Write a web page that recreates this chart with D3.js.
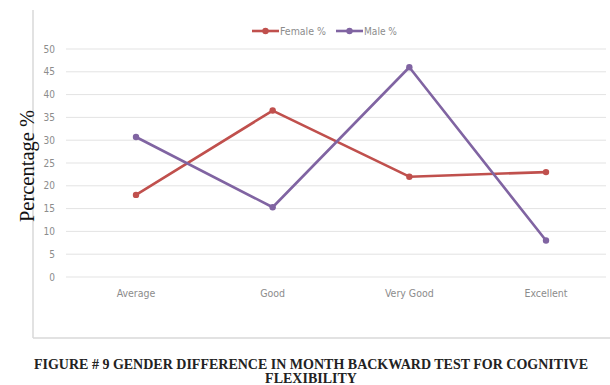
<!DOCTYPE html>
<html>
<head>
<meta charset="utf-8">
<script src="https://cdn.jsdelivr.net/npm/d3@7"></script>
<style>
  body { margin: 0; background: #fff; }
  svg { display: block; }
</style>
</head>
<body>
<div id="chart"></div>
<script>
// data
const categories = ["Average", "Good", "Very Good", "Excellent"];
const femaleVals = [18, 36.5, 22, 23];
const maleVals = [30.7, 15.3, 46, 8];
const yTicks = [0, 5, 10, 15, 20, 25, 30, 35, 40, 45, 50];
const seriesNames = ["Female %", "Male %"];

const W = 610, H = 385;
const svg = d3.select("#chart").append("svg")
    .attr("width", W)
    .attr("height", H);

const narrow = "'Liberation Sans Narrow', 'DejaVu Sans Condensed', sans-serif";
const serif = "'Liberation Serif', 'DejaVu Serif', serif";
const colors = ["#c0504d", "#8064a2"];

// chart frame (left + bottom borders visible)
svg.append("line")
    .attr("x1", 33).attr("x2", 33).attr("y1", 10).attr("y2", 338)
    .attr("stroke", "#d9d9d9").attr("stroke-width", 1.5);
svg.append("line")
    .attr("x1", 33).attr("x2", W).attr("y1", 338).attr("y2", 338)
    .attr("stroke", "#d9d9d9").attr("stroke-width", 1.5);

const x = d3.scalePoint()
    .domain(categories)
    .range([136, 546]);

const y = d3.scaleLinear()
    .domain([0, 50])
    .range([277, 49]);

// gridlines
svg.append("g")
    .selectAll("line")
    .data(yTicks)
    .enter()
    .append("line")
    .attr("x1", 66).attr("x2", 606)
    .attr("y1", d => y(d)).attr("y2", d => y(d))
    .attr("stroke", "#e3e3e3").attr("stroke-width", 1);

// y tick labels
svg.append("g")
    .selectAll("text")
    .data(yTicks)
    .enter()
    .append("text")
    .attr("x", 55)
    .attr("y", d => y(d))
    .attr("dy", "0.35em")
    .attr("text-anchor", "end")
    .attr("font-family", narrow)
    .attr("font-size", 10)
    .attr("fill", "#8c8c8c")
    .text(d => d);

// x tick labels
svg.append("g")
    .selectAll("text")
    .data(categories)
    .enter()
    .append("text")
    .attr("x", d => x(d))
    .attr("y", 297)
    .attr("text-anchor", "middle")
    .attr("font-family", narrow)
    .attr("font-size", 10.5)
    .attr("fill", "#8c8c8c")
    .text(d => d);

// lines
const series = [femaleVals, maleVals];
const line = d3.line()
    .x((d, i) => x(categories[i]))
    .y(d => y(d));

series.forEach((vals, s) => {
    svg.append("path")
        .datum(vals)
        .attr("d", line)
        .attr("fill", "none")
        .attr("stroke", colors[s])
        .attr("stroke-width", 2.6)
        .attr("stroke-linejoin", "round");
    svg.append("g")
        .selectAll("circle")
        .data(vals)
        .enter()
        .append("circle")
        .attr("cx", (d, i) => x(categories[i]))
        .attr("cy", d => y(d))
        .attr("r", 3.2)
        .attr("fill", colors[s]);
});

// legend
const legendX = [252, 336];
const legendTextW = [46, 33];
seriesNames.forEach((name, s) => {
    const g = svg.append("g").attr("transform", `translate(${legendX[s]}, 31)`);
    g.append("line")
        .attr("x1", 0).attr("x2", 27).attr("y1", 0).attr("y2", 0)
        .attr("stroke", colors[s]).attr("stroke-width", 2.6);
    g.append("circle")
        .attr("cx", 13.5).attr("cy", 0).attr("r", 3.2)
        .attr("fill", colors[s]);
    g.append("text")
        .attr("x", 28).attr("y", 0).attr("dy", "0.35em")
        .attr("font-family", narrow)
        .attr("font-size", 11)
        .attr("textLength", legendTextW[s])
        .attr("lengthAdjust", "spacingAndGlyphs")
        .attr("fill", "#8c8c8c")
        .text(name);
});

// y axis title
svg.append("text")
    .attr("transform", "translate(34, 166) rotate(-90)")
    .attr("text-anchor", "middle")
    .attr("font-family", serif)
    .attr("font-size", 20.5)
    .attr("fill", "#111")
    .text("Percentage %");

// caption
svg.append("text")
    .attr("x", 311)
    .attr("y", 369)
    .attr("text-anchor", "middle")
    .attr("font-family", serif)
    .attr("font-weight", "bold")
    .attr("font-size", 14)
    .attr("fill", "#222")
    .text("FIGURE # 9 GENDER DIFFERENCE IN MONTH BACKWARD TEST FOR COGNITIVE");
svg.append("text")
    .attr("x", 311)
    .attr("y", 383)
    .attr("text-anchor", "middle")
    .attr("font-family", serif)
    .attr("font-weight", "bold")
    .attr("font-size", 14)
    .attr("fill", "#222")
    .text("FLEXIBILITY");
</script>
</body>
</html>
